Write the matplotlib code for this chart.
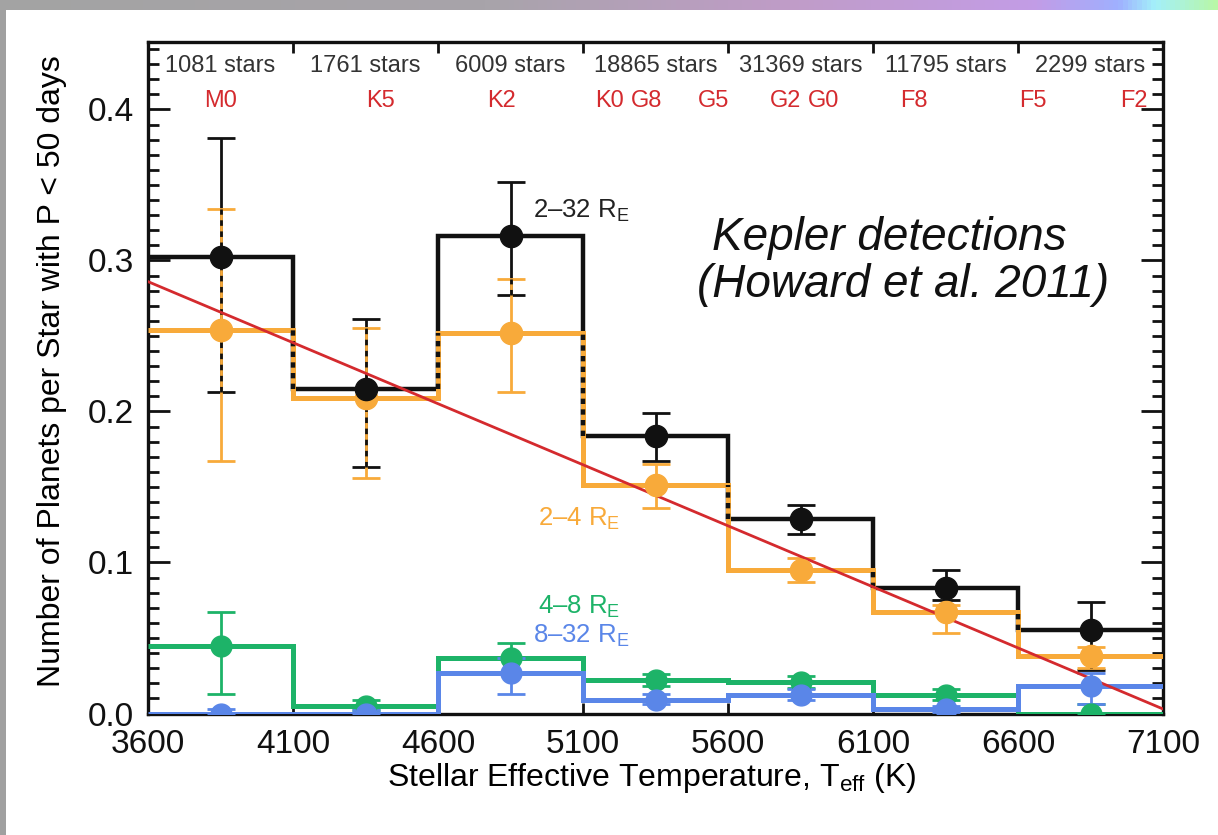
import numpy as np
import matplotlib.pyplot as plt
from matplotlib.ticker import MultipleLocator, FormatStrFormatter
from matplotlib.colors import LinearSegmentedColormap

# temperature bins and the star counts printed above each one
edges = [3600, 4100, 4600, 5100, 5600, 6100, 6600, 7100]
n_stars = [1081, 1761, 6009, 18865, 31369, 11795, 2299]

# spectral types along the top
spec_types = ['M0', 'K5', 'K2', 'K0', 'G8', 'G5', 'G2', 'G0', 'F8', 'F5', 'F2']
spec_teff = [3850, 4400, 4820, 5190, 5320, 5550, 5800, 5930, 6240, 6650, 7000]

# planets per star, with the low / high ends of each error bar
f_2_32 = [0.302, 0.215, 0.316, 0.184, 0.129, 0.083, 0.055]
f_2_32_lo = [0.213, 0.163, 0.277, 0.167, 0.119, 0.075, 0.029]
f_2_32_hi = [0.381, 0.261, 0.352, 0.199, 0.138, 0.095, 0.074]

f_2_4 = [0.254, 0.209, 0.252, 0.151, 0.095, 0.067, 0.038]
f_2_4_lo = [0.167, 0.156, 0.213, 0.136, 0.087, 0.053, 0.030]
f_2_4_hi = [0.334, 0.255, 0.288, 0.165, 0.103, 0.072, 0.044]

f_4_8 = [0.045, 0.005, 0.037, 0.022, 0.021, 0.012, 0.0]
f_4_8_lo = [0.013, 0.002, 0.027, 0.018, 0.017, 0.009, 0.0]
f_4_8_hi = [0.067, 0.009, 0.047, 0.026, 0.025, 0.016, 0.006]

f_8_32 = [0.0, 0.0, 0.027, 0.009, 0.012, 0.003, 0.018]
f_8_32_lo = [0.0, 0.0, 0.013, 0.006, 0.009, 0.001, 0.006]
f_8_32_hi = [0.003, 0.002, 0.037, 0.013, 0.016, 0.005, 0.027]

# linear fit drawn in red
fit_teff = [3600, 7100]
fit_f = [0.286, 0.003]

BLACK = '#111111'
ORANGE = '#F8AA3A'
GREEN = '#1DB368'
BLUE = '#5A86E8'
RED = '#D42A2E'

plt.rcParams['font.family'] = ['Liberation Sans', 'DejaVu Sans']
plt.rcParams['mathtext.fontset'] = 'custom'
plt.rcParams['mathtext.rm'] = 'Liberation Sans'

fig = plt.figure(figsize=(12.18, 8.35), dpi=100)

# slide decoration: gradient bar on top, grey strip on the left
bar = fig.add_axes([0, 1 - 10 / 835, 1, 10 / 835])
grad = LinearSegmentedColormap.from_list('slide', [
    (0.0, '#a3a3a3'), (0.4, '#a8a4aa'), (0.65, '#c09cc8'), (0.85, '#c39ce6'),
    (0.92, '#9fb0ff'), (0.95, '#a4f0fa'), (1.0, '#b8f7a8')])
bar.imshow(np.linspace(0, 1, 256)[None, :], aspect='auto', cmap=grad)
bar.axis('off')
strip = fig.add_axes([0, 0, 6 / 1218, 1 - 10 / 835])
strip.set_facecolor('#a0a0a0')
strip.set_xticks([])
strip.set_yticks([])
for s in strip.spines.values():
    s.set_visible(False)

ax = fig.add_axes([148 / 1218, (835 - 713.5) / 835, 1015 / 1218, 672 / 835])

centers = [(a + b) / 2 for a, b in zip(edges[:-1], edges[1:])]


def err(v, lo, hi):
    return [np.subtract(v, lo), np.subtract(hi, v)]


def series(vals, lo, hi, color, lw, z):
    ax.stairs(vals, edges, baseline=None, color=color, lw=lw, zorder=z)
    ax.errorbar(centers, vals, yerr=err(vals, lo, hi), fmt='none', ecolor=color,
                elinewidth=2, capsize=10, capthick=2, zorder=z)


def overlaps(a_lo, a_hi, b_lo, b_hi):
    lo = np.maximum(np.minimum(a_lo, a_hi), np.minimum(b_lo, b_hi))
    hi = np.minimum(np.maximum(a_lo, a_hi), np.maximum(b_lo, b_hi))
    keep = hi > lo
    return keep, lo, hi


series(f_2_32, f_2_32_lo, f_2_32_hi, BLACK, 3.2, 2)
series(f_2_4, f_2_4_lo, f_2_4_hi, ORANGE, 3.6, 3)

# black dashes where the black and orange verticals lie on each other
k, lo, hi = overlaps(f_2_32[:-1], f_2_32[1:], f_2_4[:-1], f_2_4[1:])
ax.vlines(np.array(edges[1:-1])[k], lo[k], hi[k], color=BLACK, lw=3.2,
          ls=(0, (1.2, 1.2)), zorder=4)
k, lo, hi = overlaps(f_2_32_lo, f_2_32_hi, f_2_4_lo, f_2_4_hi)
ax.vlines(np.array(centers)[k], lo[k], hi[k], color=BLACK, lw=2,
          ls=(0, (2, 2)), zorder=4)

series(f_4_8, f_4_8_lo, f_4_8_hi, GREEN, 3.6, 3)
series(f_8_32, f_8_32_lo, f_8_32_hi, BLUE, 3.6, 3.5)

ax.plot(fit_teff, fit_f, color=RED, lw=2, zorder=5)

ax.plot(centers, f_4_8, 'o', color=GREEN, ms=15, zorder=6)
ax.plot(centers, f_8_32, 'o', color=BLUE, ms=15, zorder=6.2)
ax.plot(centers, f_2_4, 'o', color=ORANGE, ms=16, zorder=6.4)
ax.plot(centers, f_2_32, 'o', color=BLACK, ms=16, zorder=6.6)

# labels for the four size classes
ax.text(4927, 0.3286, '2–32 R$_\\mathrm{E}$', color='#222222', fontsize=18.5)
ax.text(4945, 0.1248, '2–4 R$_\\mathrm{E}$', color=ORANGE, fontsize=18.5)
ax.text(4945, 0.0659, '4–8 R$_\\mathrm{E}$', color=GREEN, fontsize=18.5)
ax.text(4927, 0.0469, '8–32 R$_\\mathrm{E}$', color=BLUE, fontsize=18.5)

for c, n in zip(centers, n_stars):
    ax.text(c, 0.4285, f'{n} stars', ha='center', va='center',
            fontsize=17, color='#333333')
for t, s in zip(spec_teff, spec_types):
    ax.text(t, 0.4056, s, ha='center', va='center', fontsize=17, color=RED)

ax.set_xlim(3600, 7100)
ax.set_ylim(0, 0.445)
ax.set_xticks(edges)
ax.yaxis.set_major_locator(MultipleLocator(0.1))
ax.yaxis.set_minor_locator(MultipleLocator(0.01))
ax.yaxis.set_major_formatter(FormatStrFormatter('%.1f'))
ax.tick_params(which='both', direction='in', top=True, right=True,
               width=2, labelsize=24, colors='#111111')
ax.tick_params(axis='y', which='major', length=16, pad=10)
ax.tick_params(axis='y', which='minor', length=8)
ax.tick_params(axis='x', which='major', length=8, pad=11)
for s in ax.spines.values():
    s.set_linewidth(2.4)
    s.set_color('#111111')

ax.set_xlabel('Stellar Effective Temperature, T$_\\mathrm{eff}$ (K)', fontsize=23)
ax.set_ylabel('Number of Planets per Star with P < 50 days', fontsize=23)
ax.xaxis.set_label_coords(0.496, -0.07)
ax.yaxis.set_label_coords(-0.08, 0.51)

fig.text(712 / 1218, 1 - 238 / 835, 'Kepler detections', fontsize=33,
         style='italic', va='center', color='#111111')
fig.text(697 / 1218, 1 - 285 / 835, '(Howard et al. 2011)', fontsize=33,
         style='italic', va='center', color='#111111')

fig.savefig('out.png', dpi=100)
